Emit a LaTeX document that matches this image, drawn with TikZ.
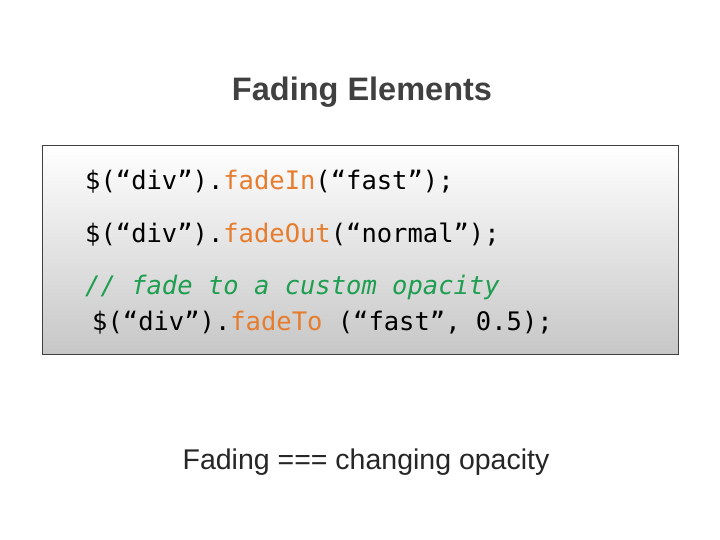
\documentclass[tikz,border=0pt]{standalone}
\usepackage{fontspec}
\setmainfont{Liberation Sans}
\setmonofont{DejaVu Sans Mono}
\definecolor{fn}{HTML}{E67D2E}
\definecolor{cm}{HTML}{1E9E50}
\definecolor{tt}{HTML}{404040}
\begin{document}
\begin{tikzpicture}[x=1pt,y=-1pt,
  code/.style={anchor=base west,inner sep=0pt,font=\ttfamily\fontsize{25.5}{25.5}\selectfont},
  ]
\useasboundingbox (0,0) rectangle (720,540);
\fill[white] (0,0) rectangle (720,540);
\node[anchor=base,inner sep=0pt,font=\bfseries\fontsize{32.5}{32.5}\selectfont,text=tt] (title) at (362,101) {Fading Elements};
\shade[top color=white,bottom color=black!22] (42,145) rectangle (678,354);
\draw[black!75,line width=0.8pt] (42,145) rectangle (678,354) node[pos=0,inner sep=0pt] (box) {};
\node[code] (l1) at (85,190) {\$(“div”).\textcolor{fn}{fadeIn}(“fast”);};
\node[code] (l2) at (85,242) {\$(“div”).\textcolor{fn}{fadeOut}(“normal”);};
\node[code,text=cm] (l3) at (85,294) {\itshape // fade to a custom opacity};
\node[code] (l4) at (92,330) {\$(“div”).\textcolor{fn}{fadeTo} (“fast”, 0.5);};
\node[anchor=base,inner sep=0pt,font=\fontsize{28.5}{28.5}\selectfont,text=black!85] (foot) at (366,469) {Fading === changing opacity};
\end{tikzpicture}
\end{document}
